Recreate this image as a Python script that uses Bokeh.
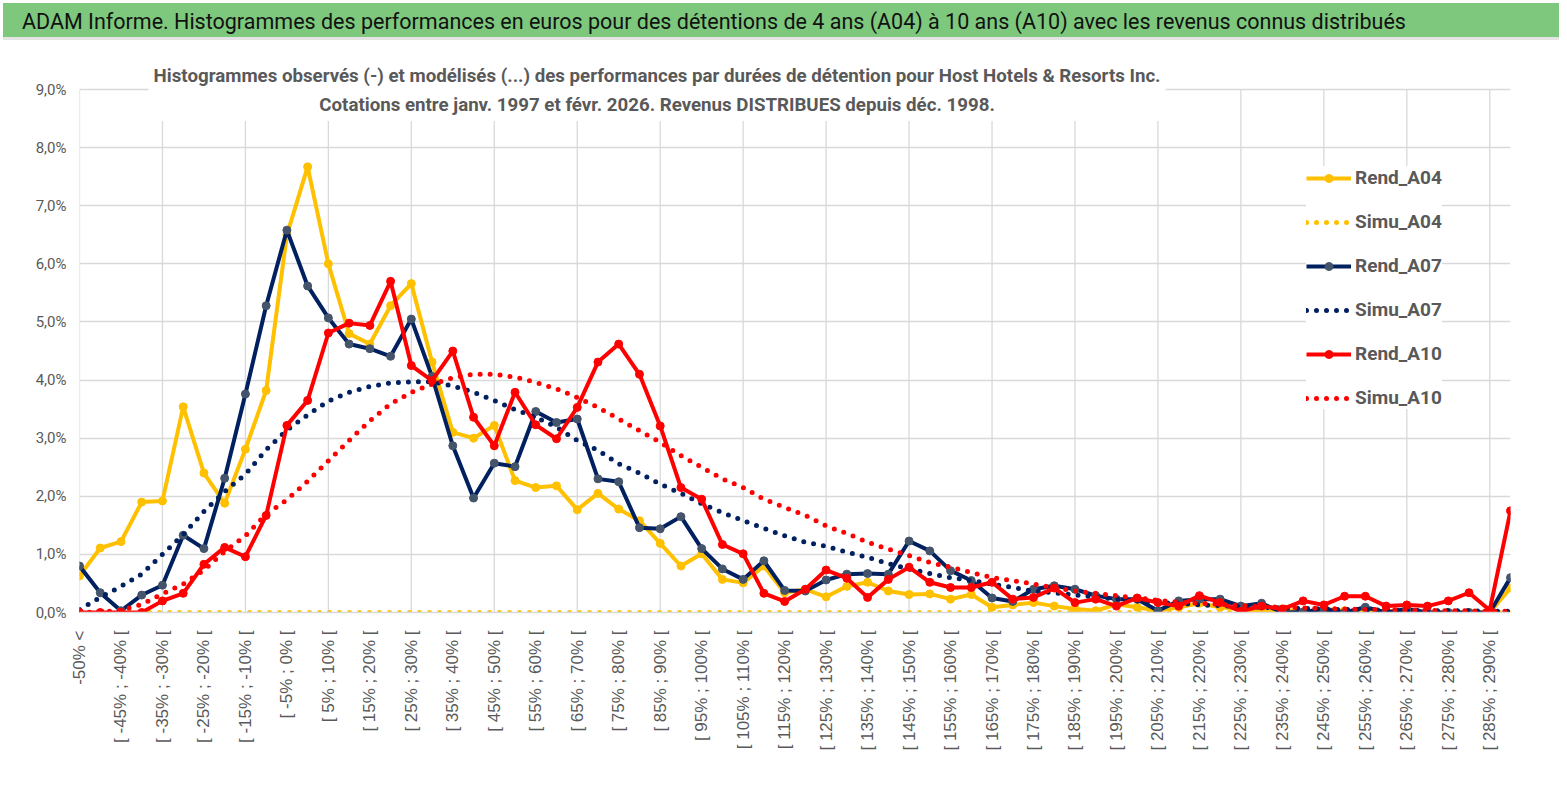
from bokeh.plotting import figure
from bokeh.models import Range1d, FixedTicker, Label, Legend, LegendItem, Div
from bokeh.layouts import column
from bokeh.embed import file_html
from bokeh.resources import INLINE

# ---------------- data ----------------
lower_bounds = list(range(-50, 295, 5))
categories = ["-50% <"] + [f"[ {lo}% ; {lo + 5}% [" for lo in lower_bounds]
x_idx = list(range(len(categories)))

rend_a04 = [0.63, 1.11, 1.22, 1.90, 1.92, 3.54, 2.40, 1.88, 2.81, 3.82,
            6.50, 7.67, 6.00, 4.80, 4.62, 5.28, 5.66, 4.31, 3.10, 3.00,
            3.22, 2.27, 2.15, 2.18, 1.77, 2.05, 1.78, 1.58, 1.19, 0.80,
            1.01, 0.57, 0.51, 0.80, 0.34, 0.40, 0.27, 0.45, 0.52, 0.37,
            0.31, 0.32, 0.23, 0.31, 0.09, 0.13, 0.17, 0.11, 0.06, 0.03,
            0.14, 0.09, 0.03, 0.09, 0.16, 0.09, 0.06, 0.00, 0.06, 0.00,
            0.06, 0.03, 0.00, 0.03, 0.00, 0.01, 0.00, 0.00, 0.00, 0.42]
simu_a04 = [0.00, 0.00, 0.00, 0.00, 0.00, 0.00, 0.00, 0.00, 0.00, 0.00,
            0.00, 0.00, 0.00, 0.00, 0.00, 0.00, 0.00, 0.00, 0.00, 0.00,
            0.00, 0.00, 0.00, 0.00, 0.00, 0.00, 0.00, 0.00, 0.00, 0.00,
            0.00, 0.00, 0.00, 0.00, 0.00, 0.00, 0.00, 0.00, 0.00, 0.00,
            0.00, 0.00, 0.00, 0.00, 0.00, 0.00, 0.00, 0.00, 0.00, 0.00,
            0.00, 0.00, 0.00, 0.00, 0.00, 0.00, 0.00, 0.00, 0.00, 0.00,
            0.00, 0.00, 0.00, 0.00, 0.00, 0.00, 0.00, 0.00, 0.00, 0.00]
rend_a07 = [0.80, 0.34, 0.03, 0.30, 0.47, 1.33, 1.10, 2.31, 3.76, 5.28,
            6.58, 5.62, 5.07, 4.62, 4.54, 4.41, 5.05, 4.06, 2.87, 1.97,
            2.57, 2.51, 3.46, 3.27, 3.33, 2.30, 2.25, 1.46, 1.44, 1.65,
            1.10, 0.75, 0.57, 0.89, 0.38, 0.37, 0.56, 0.66, 0.67, 0.66,
            1.23, 1.06, 0.72, 0.55, 0.25, 0.19, 0.40, 0.46, 0.40, 0.29,
            0.23, 0.23, 0.03, 0.20, 0.23, 0.23, 0.11, 0.16, 0.00, 0.01,
            0.06, 0.00, 0.09, 0.00, 0.06, 0.00, 0.00, 0.00, 0.00, 0.60]
simu_a07 = [0.05, 0.26, 0.45, 0.66, 1.00, 1.34, 1.74, 2.08, 2.38, 2.80,
            3.14, 3.40, 3.64, 3.79, 3.89, 3.95, 3.97, 3.97, 3.90, 3.79,
            3.65, 3.49, 3.36, 3.19, 2.96, 2.79, 2.56, 2.40, 2.21, 2.05,
            1.87, 1.72, 1.58, 1.45, 1.32, 1.21, 1.14, 1.04, 0.95, 0.84,
            0.75, 0.67, 0.60, 0.55, 0.49, 0.43, 0.37, 0.34, 0.30, 0.27,
            0.23, 0.20, 0.17, 0.16, 0.13, 0.12, 0.10, 0.09, 0.08, 0.07,
            0.06, 0.05, 0.05, 0.04, 0.04, 0.03, 0.03, 0.03, 0.02, 0.02]
rend_a10 = [0.00, 0.00, 0.00, 0.00, 0.20, 0.33, 0.83, 1.12, 0.96, 1.67,
            3.22, 3.65, 4.81, 4.98, 4.94, 5.70, 4.25, 3.99, 4.50, 3.36,
            2.87, 3.79, 3.23, 2.99, 3.53, 4.31, 4.62, 4.10, 3.21, 2.15,
            1.95, 1.17, 1.01, 0.33, 0.19, 0.40, 0.73, 0.59, 0.26, 0.57,
            0.78, 0.52, 0.43, 0.43, 0.52, 0.23, 0.26, 0.42, 0.17, 0.23,
            0.11, 0.25, 0.17, 0.11, 0.29, 0.17, 0.02, 0.11, 0.06, 0.20,
            0.13, 0.28, 0.28, 0.11, 0.13, 0.11, 0.20, 0.34, 0.04, 1.75]
simu_a10 = [0.00, 0.01, 0.04, 0.14, 0.32, 0.49, 0.73, 1.05, 1.32, 1.69,
            1.94, 2.26, 2.61, 2.96, 3.30, 3.59, 3.79, 3.93, 4.04, 4.10,
            4.10, 4.05, 3.96, 3.85, 3.70, 3.53, 3.33, 3.13, 2.93, 2.70,
            2.50, 2.30, 2.15, 1.95, 1.81, 1.67, 1.49, 1.36, 1.21, 1.09,
            0.98, 0.86, 0.78, 0.69, 0.60, 0.55, 0.49, 0.43, 0.37, 0.33,
            0.29, 0.25, 0.21, 0.18, 0.16, 0.14, 0.12, 0.10, 0.09, 0.08,
            0.07, 0.06, 0.05, 0.05, 0.04, 0.04, 0.03, 0.03, 0.02, 0.02]

y_ticks = [0, 1, 2, 3, 4, 5, 6, 7, 8, 9]
y_tick_labels = ["0,0%", "1,0%", "2,0%", "3,0%", "4,0%", "5,0%", "6,0%", "7,0%", "8,0%", "9,0%"]
x_ticks = x_idx[::2]
x_grid = x_idx[::4]

banner_title = ("ADAM Informe. Histogrammes des performances en euros pour des détentions "
                "de 4 ans (A04) à 10 ans (A10) avec les revenus connus distribués")
sub_title = ("Histogrammes observés (-) et modélisés (...) des performances par durées de détention "
             "pour Host Hotels & Resorts Inc.\n"
             "Cotations entre janv. 1997 et févr. 2026. Revenus DISTRIBUES depuis déc. 1998.")

YELLOW = "#FFC000"
NAVY = "#002060"
NAVY_MK = "#44546A"
RED = "#FF0000"
GRAY_TXT = "#595959"
GRID = "#D9D9D9"
FONT = "Roboto"

W = 1559

# ---------------- banner ----------------
banner = Div(text=banner_title, width=1556, height=37, margin=(3, 0, 4, 3),
             styles={"background-color": "#7DC87D", "color": "#111111",
                     "font-family": FONT, "font-size": "21.5px", "line-height": "37px",
                     "padding-left": "19px", "box-sizing": "border-box",
                     "border-bottom": "3px solid #E4E4E4", "white-space": "nowrap",
                     "overflow": "hidden"})

# ---------------- main chart ----------------
y_top = 9.586
p = figure(width=W, height=740, x_range=Range1d(0, len(categories) - 1), y_range=Range1d(0, y_top),
           output_backend="svg", toolbar_location=None,
           min_border_left=79, min_border_right=49, min_border_top=11, min_border_bottom=172,
           background_fill_color="white", border_fill_color="white", outline_line_color=None)

p.xgrid.visible = False
p.ygrid.ticker = FixedTicker(ticks=y_ticks)
p.ygrid.grid_line_color = GRID
p.ygrid.grid_line_width = 1.3
# vertical grid lines limited to the 0-9 % plot area
p.segment(x0=x_grid, y0=[y_ticks[0]] * len(x_grid), x1=x_grid, y1=[y_ticks[-1]] * len(x_grid),
          line_color=GRID, line_width=1.3)

p.yaxis.ticker = FixedTicker(ticks=y_ticks)
p.yaxis.major_label_overrides = {t: l for t, l in zip(y_ticks, y_tick_labels)}
p.yaxis.axis_line_color = None
p.yaxis.major_tick_line_color = None
p.yaxis.minor_tick_line_color = None
p.yaxis.major_label_text_font = FONT
p.yaxis.major_label_text_font_size = "15px"
p.yaxis.major_label_text_color = GRAY_TXT
p.yaxis.major_label_standoff = 7

p.xaxis.ticker = FixedTicker(ticks=x_ticks)
p.xaxis.major_label_overrides = {i: categories[i] for i in x_ticks}
p.xaxis.major_label_orientation = 1.5707963
p.xaxis.axis_line_color = GRID
p.xaxis.axis_line_width = 1.3
p.xaxis.major_tick_line_color = None
p.xaxis.minor_tick_line_color = None
p.xaxis.major_label_text_font = "Liberation Sans"
p.xaxis.major_label_text_font_size = "17px"
p.xaxis.major_label_text_color = GRAY_TXT
p.xaxis.major_label_standoff = 12


def solid(vals, color, mk):
    r1 = p.line(x_idx, vals, line_color=color, line_width=4, line_join="round")
    r2 = p.scatter(x_idx, vals, size=8, fill_color=mk, line_color=mk)
    return [r1, r2]


def dotted(vals, color):
    return [p.line(x_idx, vals, line_color=color, line_width=5, line_dash="0 10",
                   line_cap="round")]


items = [
    LegendItem(label="Rend_A04", renderers=solid(rend_a04, YELLOW, YELLOW)),
    LegendItem(label="Simu_A04", renderers=dotted(simu_a04, YELLOW)),
    LegendItem(label="Rend_A07", renderers=solid(rend_a07, NAVY, NAVY_MK)),
    LegendItem(label="Simu_A07", renderers=dotted(simu_a07, NAVY)),
    LegendItem(label="Rend_A10", renderers=solid(rend_a10, RED, RED)),
    LegendItem(label="Simu_A10", renderers=dotted(simu_a10, RED)),
]
legend = Legend(items=items, location=(1227, 203), border_line_color=None,
                background_fill_color="white", background_fill_alpha=1.0,
                label_text_font=FONT, label_text_font_size="19px",
                label_text_font_style="bold", label_text_color=GRAY_TXT,
                glyph_width=45, glyph_height=20, label_height=20, spacing=21,
                padding=10, label_standoff=4, margin=0)
p.add_layout(legend, "center")

p.add_layout(Label(x=27.85, y=9.5, text=sub_title, text_align="center", text_baseline="top",
                   text_font=FONT, text_font_size="18.7px", text_font_style="bold",
                   text_color=GRAY_TXT, text_line_height=1.3,
                   background_fill_color="white", background_fill_alpha=1.0, padding=5))

layout = column(banner, p, spacing=0)
open("out.html", "w").write(file_html(layout, INLINE))
